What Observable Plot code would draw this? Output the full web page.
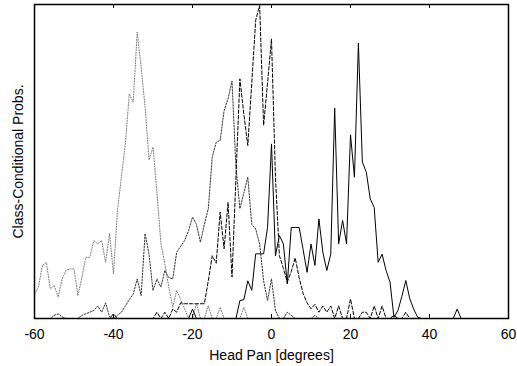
<!DOCTYPE html>
<html>
<head>
<meta charset="utf-8">
<script src="https://cdn.jsdelivr.net/npm/d3@7"></script>
<script src="https://cdn.jsdelivr.net/npm/@observablehq/plot@0.6"></script>
<style>
  html, body { margin: 0; padding: 0; background: #fff; }
</style>
</head>
<body>
<div id="chart"></div>
<script>
// Head pan angle in degrees (1-degree bins)
const degrees = d3.range(-60, 51);

// Class-conditional probabilities (arbitrary units, peak of chart = 100), one value per degree from -60 to 50
const solidClass = [
  0,0,0,0,0,0,0,0,0,0,            // -60..-51
  0,0,0,0,0,0,0,0,0,0,            // -50..-41
  0,0,0,0,0,0,0,0,0,0,            // -40..-31
  0,0,0,0,0,0,0,0,0,0,            // -30..-21
  3,0,0,0,0,0,0,0,0,0,            // -20..-11
  0,0,5.7,6,12,9,20.6,20.6,20.6,29, // -10..-1
  55.6,20,26.4,23.8,11,29,29,29,22,14.7, // 0..9
  23.7,16.9,31.7,21.1,15.3,20.5,67,23.8,31.2,23.8, // 10..19
  58.5,45,87.7,49.8,46.6,38.1,35.4,17.9,20.5,15.3, // 20..29
  11.6,0.4,2.5,7,12.1,6.3,3,0.4,0,0, // 30..39
  0,0,0,0,0,0,0,3,0,0,0           // 40..50
];
const dashedClass = [
  0,0,0,0,0,0,0,0,0,0,            // -60..-51
  0,0,0,0,0,0,0,0,0,0,            // -50..-41
  1.5,0,0,0,0,0,0,0,0,0,          // -40..-31
  0,2,0,2,0,3,2,5,4.7,4.7,        // -30..-21
  4.7,4.7,4.7,4.7,12,20,17.6,33.9,22.2,37, // -20..-11
  13.2,45,76.3,65,55.1,75,95,99.7,61.5,75, // -10..-1
  89,45,20,16,11.6,15,19.3,13,8,5, // 0..9
  3.1,4.5,2,4,2,4,0,4,0,0,        // 10..19
  6.2,0,0,2,2,0,4,0,4,0,          // 20..29
  0,1,0,0,2,0,0,0,0,0,            // 30..39
  0,0,0,0,0,0,0,0,0,0,0           // 40..50
];
const finelyDottedClass = [
  0,0,0,0,0,1,1.5,0.5,0,0,        // -60..-51
  0,0,1,1.5,2,2.5,4,2,5,0.5,      // -50..-41
  0,1,2,4,6,7.8,12.6,7.3,27,20.5, // -40..-31
  8.9,12.6,10,15.3,13,12.6,21.1,23,24.8,28, // -30..-21
  32.3,30,24.3,30,35,51.4,56.1,56.7,66.2,70, // -20..-11
  75.6,48.2,35,40,45,30,28.5,23.7,12,5.7, // -10..-1
  12.6,2.5,0,0,2,1,0,0,0,0,       // 0..9
  0,1,0,0,0,0,0,0,0,0,            // 10..19
  0,0,0,0,0,0,0,0,0,0,            // 20..29
  0,0,0,0,0,0,0,0,0,0,            // 30..39
  0,0,0,0,0,0,0,0,0,0,0           // 40..50
];
const greyDottedClass = [
  7.8,10,16.9,17.9,9.4,10.5,6.8,12.6,15.3,15.8, // -60..-51
  15.8,7.3,13.2,19.5,19.5,24.8,23.8,24.8,17.9,27, // -50..-41
  14.2,34.4,45,55.6,71.6,68.9,91.2,80,67.3,50.5, // -40..-31
  54.6,40,24,17.4,10,3.6,8.9,6,3.1,0, // -30..-21
  0,4.8,0,0,4.1,0,0,3.6,0,0,      // -20..-11
  0,0,0,3.6,0,0,0,0,0,0,          // -10..-1
  0,0,0,0,0,0,0,0,0,0,            // 0..9
  0,0,0,0,0,0,0,0,0,0,            // 10..19
  0,0,0,0,0,0,0,0,0,0,            // 20..29
  0,1,0,0,0,0,0,0,0,0,            // 30..39
  0,0,0,0,0,0,0,0,0,0,0           // 40..50
];

const xTicks = [-60, -40, -20, 0, 20, 40, 60];
const xLabel = "Head Pan [degrees]";
const yLabel = "Class-Conditional Probs.";

const series = [
  {name: "grey", values: greyDottedClass, stroke: "#7a7a7a", dash: "1,1.6"},
  {name: "fine", values: finelyDottedClass, stroke: "#333", dash: "1.5,1.5"},
  {name: "dashed", values: dashedClass, stroke: "#000", dash: "3.5,2"},
  {name: "solid", values: solidClass, stroke: "#000", dash: null}
];

const lineMarks = series.map(s =>
  Plot.line(degrees.map((d, i) => ({x: d, y: s.values[i]})), {
    x: "x", y: "y", stroke: s.stroke, strokeWidth: 1,
    strokeDasharray: s.dash ?? undefined
  })
);

const h = 366, mt = 4, mb = 48;
const innerH = h - mt - mb;

const chart = Plot.plot({
  width: 517,
  height: h,
  marginLeft: 34,
  marginRight: 9,
  marginTop: mt,
  marginBottom: mb,
  style: {fontFamily: "'Liberation Sans', Arial, Helvetica, sans-serif", fontSize: "14px", background: "#fff"},
  x: {domain: [-60, 60]},
  y: {domain: [0, 100], axis: null},
  marks: [
    ...lineMarks,
    Plot.ruleX(xTicks, {insetTop: innerH - 4, stroke: "#000", strokeWidth: 1}),
    Plot.ruleX(xTicks, {insetBottom: innerH - 4, stroke: "#000", strokeWidth: 1}),
    Plot.frame({stroke: "#000", strokeWidth: 1.5}),
    Plot.axisX(xTicks, {tickSize: 0, tickPadding: 11, fontSize: 14, label: null, tickFormat: d => String(d)}),
    Plot.text([xLabel], {frameAnchor: "bottom", dy: 41, fontSize: 14, fill: "#000"}),
    Plot.text([yLabel], {frameAnchor: "left", rotate: -90, dx: -16, textAnchor: "middle", fontSize: 14, fill: "#000"})
  ]
});
document.getElementById("chart").appendChild(chart);
</script>
</body>
</html>
